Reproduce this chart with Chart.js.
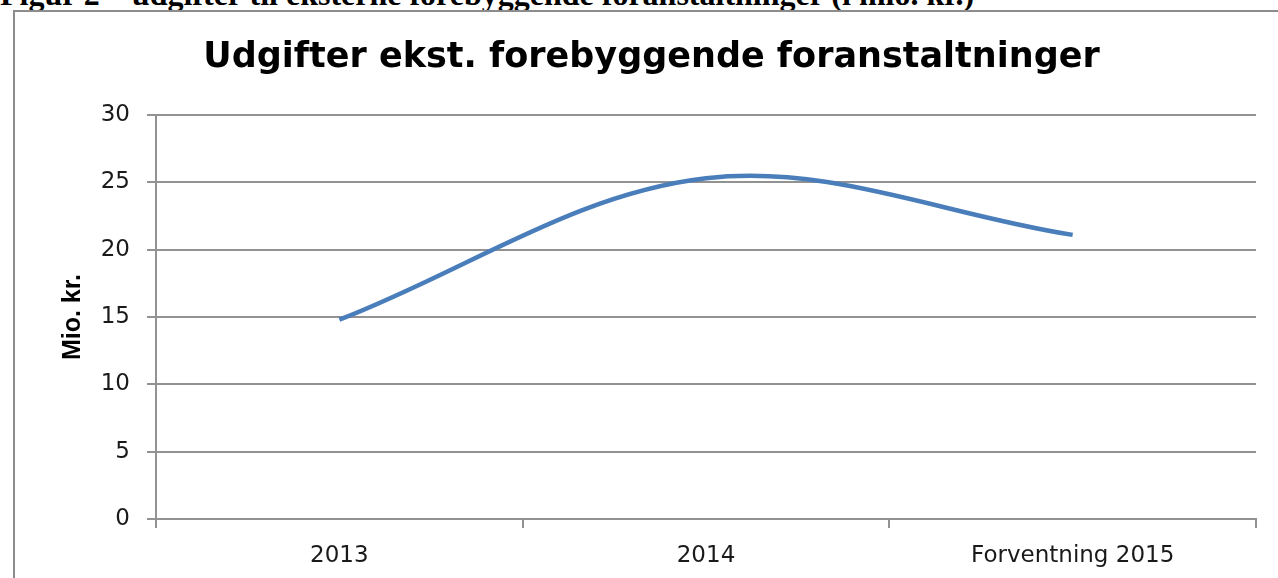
<!DOCTYPE html>
<html>
<head>
<meta charset="utf-8">
<script src="https://cdn.jsdelivr.net/npm/chart.js@4.4.0/dist/chart.umd.min.js"></script>
<style>
  html, body { margin: 0; padding: 0; background: #fff; overflow: hidden; }
  body { width: 1278px; height: 578px; position: relative; }
  .caption {
    position: absolute; left: 0; top: -22px;
    font: bold 32px "Liberation Serif", "Times New Roman", serif;
    line-height: 32px; white-space: nowrap; color: #000;
  }
  .box {
    position: absolute; left: 13px; top: 10px;
    width: 1300px; height: 580px;
    border: 2px solid #8c8c8c;
  }
  canvas { position: absolute; left: 0; top: 0; }
</style>
</head>
<body>
<div class="caption">Figur 2 – udgifter til eksterne forebyggende foranstaltninger (i mio. kr.)</div>
<div class="box"><canvas id="chart" width="1273" height="566"></canvas></div>
<script>
const categories = ['2013', '2014', 'Forventning 2015'];
const expenses = [14.8, 25.3, 21.1];
const yTicks = [0, 5, 10, 15, 20, 25, 30];

const gridColor = '#929292';

const ctx = document.getElementById('chart').getContext('2d');
const chart = new Chart(ctx, {
  type: 'line',
  data: {
    labels: categories,
    datasets: [{
      label: 'Udgifter',
      data: expenses,
      borderColor: '#4a7ebb',
      borderWidth: 4.5,
      tension: 0.35,
      pointRadius: 0,
      fill: false
    }]
  },
  options: {
    responsive: false,
    animation: false,
    layout: { padding: 0 },
    plugins: {
      legend: { display: false },
      tooltip: { enabled: false },
      title: {
        display: true,
        text: 'Udgifter ekst. forebyggende foranstaltninger',
        color: '#000',
        font: { family: '"DejaVu Sans", sans-serif', size: 35, weight: 'bold' },
        padding: { top: 25, bottom: 36 }
      }
    },
    scales: {
      x: {
        offset: true,
        grid: {
          offset: true,
          drawOnChartArea: false,
          drawTicks: true,
          tickLength: 9,
          color: gridColor,
          lineWidth: 2
        },
        border: { display: true, color: gridColor, width: 2 },
        ticks: {
          color: '#1a1a1a',
          padding: 14,
          maxRotation: 0,
          font: { family: '"DejaVu Sans", sans-serif', size: 23 }
        },
        afterFit: (scale) => { scale.height = 59; }
      },
      y: {
        min: 0,
        max: 30,
        afterBuildTicks: (scale) => { scale.ticks = yTicks.map(v => ({ value: v })); },
        grid: {
          color: gridColor,
          lineWidth: 2,
          drawTicks: true,
          tickLength: 9
        },
        border: { display: true, color: gridColor, width: 2 },
        ticks: {
          color: '#1a1a1a',
          padding: 17,
          font: { family: '"DejaVu Sans", sans-serif', size: 23 }
        },
        title: {
          display: true,
          text: 'Mio. kr.',
          color: '#000',
          font: { family: '"Liberation Sans", Arial, sans-serif', size: 25, weight: 'bold' },
          padding: { top: 43, bottom: 0 }
        },
        afterFit: (scale) => { scale.width = 141; }
      },
      // empty right-hand spacer so the plot ends where the reference does
      yRight: {
        position: 'right',
        min: 0,
        max: 30,
        grid: { display: false },
        border: { display: false },
        ticks: { display: false },
        afterFit: (scale) => { scale.width = 32; }
      }
    }
  }
});
</script>
</body>
</html>
